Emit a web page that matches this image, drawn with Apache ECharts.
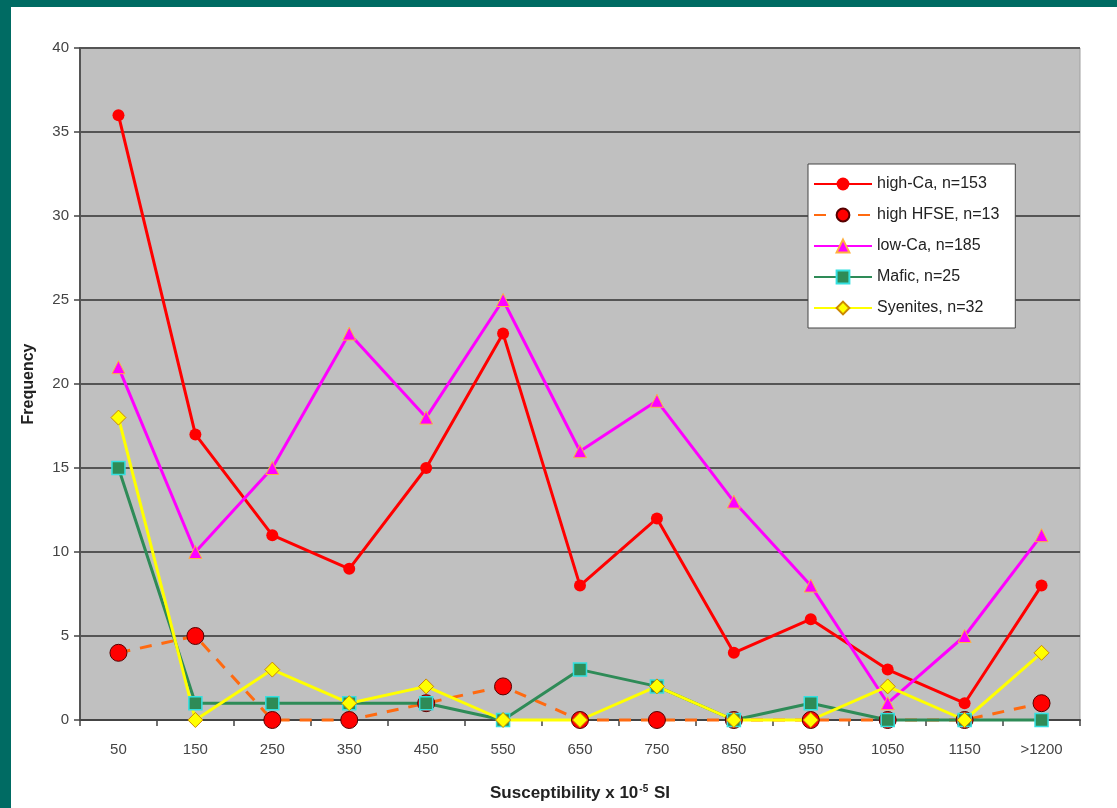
<!DOCTYPE html>
<html>
<head>
<meta charset="utf-8">
<script src="https://cdn.jsdelivr.net/npm/echarts@6/dist/echarts.min.js"></script>
<style>
html,body{margin:0;padding:0;background:#fff;}
#chart{width:1117px;height:808px;}
</style>
</head>
<body>
<div id="chart"></div>
<script>
var categories = ['50','150','250','350','450','550','650','750','850','950','1050','1150','>1200'];
var highCa   = [36,17,11,9,15,23,8,12,4,6,3,1,8];
var highHFSE = [4,5,0,0,1,2,0,0,0,0,0,0,1];
var lowCa    = [21,10,15,23,18,25,16,19,13,8,1,5,11];
var mafic    = [15,1,1,1,1,0,3,2,0,1,0,0,0];
var syenites = [18,0,3,1,2,0,0,2,0,0,2,0,4];
var seriesNames = ['high-Ca, n=153','high HFSE, n=13','low-Ca, n=185','Mafic, n=25','Syenites, n=32'];

var font = 'Liberation Sans, Arial, sans-serif';
var chart = echarts.init(document.getElementById('chart'), null, {renderer:'canvas'});
chart.setOption({
  animation:false,
  backgroundColor:'#ffffff',
  textStyle:{fontFamily:font},
  graphic:[
    {type:'rect', left:0, top:0, shape:{width:1117,height:7}, style:{fill:'#006b63'}, z:100},
    {type:'rect', left:0, top:0, shape:{width:11,height:808}, style:{fill:'#006b63'}, z:100}
  ],
  grid:{left:80, right:37, top:48, bottom:88, show:true, backgroundColor:'#c0c0c0', borderColor:'#a0a0a0', borderWidth:1},
  legend:{
    orient:'vertical', left:808, top:164,
    backgroundColor:'#ffffff', borderColor:'#444', borderWidth:1,
    padding:[12,16,12,5], itemGap:15, itemWidth:58, itemHeight:16,
    textStyle:{fontFamily:font, fontSize:16, color:'#222'},
    data:seriesNames
  },
  xAxis:{
    type:'category', data:categories, boundaryGap:true,
    axisLine:{lineStyle:{color:'#444', width:2}},
    axisTick:{show:true, length:6, lineStyle:{color:'#444', width:1.5}},
    axisLabel:{fontFamily:font, fontSize:15, color:'#444', margin:22},
    name:'{a|Susceptibility x 10}{s|-5}{a| SI}', nameLocation:'middle', nameGap:64,
    nameTextStyle:{rich:{a:{fontFamily:font, fontSize:17, fontWeight:'bold', color:'#222'}, s:{fontFamily:font, fontSize:10, fontWeight:'bold', color:'#222', verticalAlign:'top', padding:[0,1,9,1]}}}
  },
  yAxis:{
    type:'value', min:0, max:40, interval:5,
    axisLine:{show:true, lineStyle:{color:'#555', width:2}},
    axisTick:{show:true, length:6, lineStyle:{color:'#444', width:1.5}},
    axisLabel:{fontFamily:font, fontSize:15, color:'#444', margin:11},
    splitLine:{show:true, lineStyle:{color:'#555', width:2}},
    name:'Frequency', nameLocation:'middle', nameGap:43,
    nameTextStyle:{fontFamily:font, fontSize:16, fontWeight:'bold', color:'#222'}
  },
  series:[
    {name:seriesNames[0], type:'line', data:highCa, clip:false,
     symbol:'circle', symbolSize:12,
     lineStyle:{color:'#ff0000', width:3}, itemStyle:{color:'#ff0000', borderColor:'#ff0000', borderWidth:0}},
    {name:seriesNames[1], type:'line', data:highHFSE, clip:false,
     symbol:'circle', symbolSize:17,
     lineStyle:{color:'#ff6a10', width:3, type:[12,10]}, itemStyle:{color:'#ff0000', borderColor:'#550000', borderWidth:1}},
    {name:seriesNames[2], type:'line', data:lowCa, clip:false,
     symbol:'triangle', symbolSize:13,
     lineStyle:{color:'#ff00ff', width:3}, itemStyle:{color:'#ff00ff', borderColor:'#ffb040', borderWidth:1}},
    {name:seriesNames[3], type:'line', data:mafic, clip:false,
     symbol:'rect', symbolSize:13,
     lineStyle:{color:'#2e8b57', width:3}, itemStyle:{color:'#2e8b57', borderColor:'#33e0e0', borderWidth:1.5}},
    {name:seriesNames[4], type:'line', data:syenites, clip:false,
     symbol:'diamond', symbolSize:15,
     lineStyle:{color:'#ffff00', width:3}, itemStyle:{color:'#ffff00', borderColor:'#cc8800', borderWidth:1}}
  ]
});
</script>
</body>
</html>
